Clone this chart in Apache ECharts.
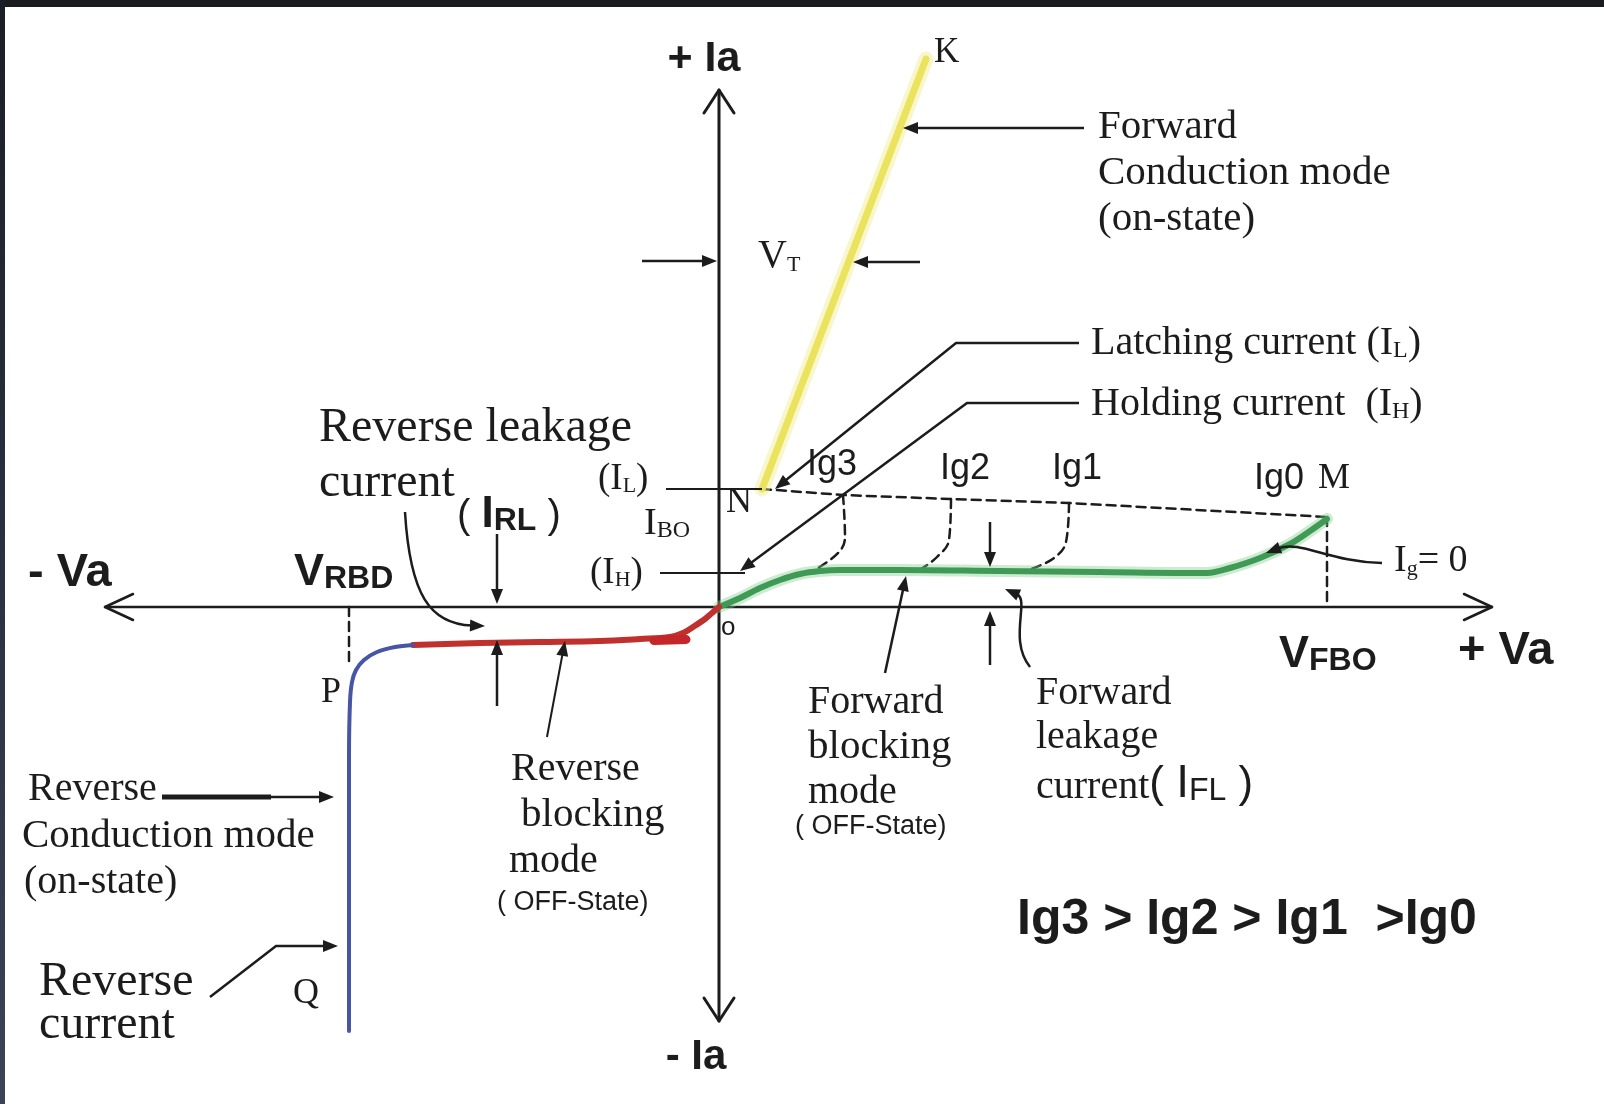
<!DOCTYPE html>
<html>
<head>
<meta charset="utf-8">
<title>SCR V-I characteristic</title>
<script src="https://cdn.jsdelivr.net/npm/echarts@6/dist/echarts.min.js"></script>
<style>
html, body { margin: 0; padding: 0; background: #fff; }
#main { width: 1604px; height: 1104px; }
</style>
</head>
<body>
<div id="main"></div>
<script>
// data in axis units: Va to the right, Ia upwards, origin at the crossing
var forwardOn = [[4.3, 11.8], [20.7, 54.8]];                     // N -> K
var forwardBlock = [[0, 0], [2.1, 0.9], [4.1, 1.9], [6.1, 2.7], [8.1, 3.3], [10.1, 3.6], [12.1, 3.7],
  [18, 3.7], [28, 3.6], [38, 3.5], [48.8, 3.4], [51.1, 3.9], [54.1, 4.9], [57.1, 6.3], [59.1, 7.6], [60.8, 8.8]];
var reverseBlock = [[0, 0], [-0.7, -0.6], [-1.4, -1.2], [-2.6, -2.0], [-3.6, -2.6], [-4.9, -3.0], [-7.9, -3.2],
  [-11.9, -3.4], [-17.9, -3.5], [-23.9, -3.6], [-30.6, -3.8]];
var reverseWedge = [[-3.3, -3.25], [-6.5, -3.35]];
var reverseOn = [[-30.6, -3.8], [-32.4, -4.0], [-34.2, -4.5], [-35.5, -5.3], [-36.3, -6.3], [-36.7, -7.5],
  [-36.9, -9.5], [-37, -15], [-37, -25], [-37, -42.4]];
var triggerLine = [[4.3, 11.8], [12.4, 11.2], [23.2, 10.8], [35, 10.4], [60.8, 9.0]];   // N .. M
var ig3Drop = [[12.4, 11.2], [12.6, 7.0], [12.0, 5.5], [9.9, 3.9]];
var ig2Drop = [[23.2, 10.8], [23.0, 6.7], [21.8, 5.0], [20.2, 3.8]];
var ig1Drop = [[35, 10.4], [34.7, 6.5], [33.5, 4.9], [31.2, 3.8]];
var vrbdMark = [[-37, 0], [-37, -5.8]];
var vfboMark = [[60.8, 9.0], [60.8, 0]];
var vaAxis = [[-61.4, 0], [77.3, 0]];
var iaAxis = [[0, 51.7], [0, -41.4]];
var arrowRight = [[74.5, 1.3], [77.3, 0], [74.5, -1.3]];
var arrowLeft = [[-58.6, 1.3], [-61.4, 0], [-58.6, -1.3]];
var arrowUp = [[-1.5, 49.4], [0, 51.7], [1.5, 49.4]];
var arrowDown = [[-1.5, -39.1], [0, -41.4], [1.5, -39.1]];

var SERIF = '"Liberation Serif", "Times New Roman", serif';
var SANS = '"Liberation Sans", Arial, sans-serif';
var INK = '#1c1c1c';

var chart = echarts.init(document.getElementById('main'));

function ln(data, color, width, extra) {
  var s = {
    type: 'line', data: data, symbol: 'none', silent: true, animation: false,
    lineStyle: { color: color, width: width, cap: 'round', join: 'round' }
  };
  if (extra) {
    for (var k in extra) {
      if (k === 'dash') s.lineStyle.type = extra.dash;
      else s[k] = extra[k];
    }
  }
  return s;
}

function label(x, y, text, font, opt) {
  opt = opt || {};
  return {
    type: 'text', x: x, y: y, z: 50, silent: true,
    style: {
      text: text, font: font, fill: opt.color || INK,
      align: opt.align || 'left', verticalAlign: opt.va || 'middle',
      textAlign: opt.align || 'left', textVerticalAlign: opt.va || 'middle',
      lineHeight: opt.lh, rich: opt.rich
    }
  };
}

function headAt(a, b, hl, hw) {
  var dx = b[0] - a[0], dy = b[1] - a[1], L = Math.sqrt(dx * dx + dy * dy);
  var ux = dx / L, uy = dy / L;
  var bx = b[0] - ux * hl, by = b[1] - uy * hl;
  return {
    base: [bx + ux * 2, by + uy * 2],
    el: {
      type: 'polygon', z: 40, silent: true,
      shape: { points: [[b[0], b[1]], [bx - uy * hw, by + ux * hw], [bx + uy * hw, by - ux * hw]] },
      style: { fill: INK }
    }
  };
}

function arrow(pts, w) {
  var n = pts.length;
  var h = headAt(pts[n - 2], pts[n - 1], 15, 6);
  var line = pts.slice(0, n - 1).concat([h.base]);
  return [
    { type: 'polyline', z: 40, silent: true, shape: { points: line },
      style: { stroke: INK, lineWidth: w || 2.5, fill: null } },
    h.el
  ];
}

function curveArrow(p0, c1, c2, p3) {
  var h = headAt(c2, p3, 15, 6);
  return [
    { type: 'bezierCurve', z: 40, silent: true,
      shape: { x1: p0[0], y1: p0[1], cpx1: c1[0], cpy1: c1[1], cpx2: c2[0], cpy2: c2[1], x2: h.base[0], y2: h.base[1] },
      style: { stroke: INK, lineWidth: 2.5, fill: null } },
    h.el
  ];
}

function seg(pts, w) {
  return { type: 'polyline', z: 40, silent: true, shape: { points: pts },
    style: { stroke: INK, lineWidth: w || 2, fill: null } };
}

var g = [];
// frame of the screenshot
g.push({ type: 'rect', z: 60, silent: true, shape: { x: 0, y: 0, width: 1604, height: 7 }, style: { fill: '#1b1c20' } });
g.push({ type: 'rect', z: 60, silent: true, shape: { x: 0, y: 0, width: 5, height: 1104 },
  style: { fill: new echarts.graphic.LinearGradient(0, 0, 0, 1, [{ offset: 0, color: '#1b1e27' }, { offset: 1, color: '#3a4358' }]) } });

// axis names
g.push(label(704, 59, '+ Ia', 'bold 43px ' + SANS, { align: 'center' }));
g.push(label(696, 1057, '- Ia', 'bold 42px ' + SANS, { align: 'center' }));
g.push(label(28, 573, '- Va', 'bold 47px ' + SANS));
g.push(label(1458, 651, '+ Va', 'bold 47px ' + SANS));
g.push(label(294, 573, '{a|V}{b|RBD}', 'bold 44px ' + SANS, { rich: {
  a: { font: 'bold 45px ' + SANS, verticalAlign: 'bottom' }, b: { font: 'bold 32px ' + SANS, verticalAlign: 'bottom' } } }));
g.push(label(1279, 655, '{a|V}{b|FBO}', 'bold 44px ' + SANS, { rich: {
  a: { font: 'bold 45px ' + SANS, verticalAlign: 'bottom' }, b: { font: 'bold 32px ' + SANS, verticalAlign: 'bottom' } } }));
g.push(label(457, 515, '{p|( }{a|I}{b|RL}{p| )}', '38px ' + SANS, { rich: {
  p: { font: '40px ' + SANS, verticalAlign: 'bottom' }, a: { font: 'bold 44px ' + SANS, verticalAlign: 'bottom' },
  b: { font: 'bold 32px ' + SANS, verticalAlign: 'bottom' } } }));

// point letters
g.push(label(934, 53, 'K', '35px ' + SERIF));
g.push(label(726, 503, 'N', '36px ' + SERIF));
g.push(label(1318, 479, 'M', '36px ' + SERIF));
g.push(label(321, 693, 'P', '36px ' + SERIF));
g.push(label(293, 994, 'Q', '36px ' + SERIF));
g.push(label(721, 628, 'o', '26px ' + SANS));

// gate current labels
g.push(label(807, 465, 'Ig3', '36px ' + SANS));
g.push(label(940, 469, 'Ig2', '36px ' + SANS));
g.push(label(1052, 469, 'Ig1', '36px ' + SANS));
g.push(label(1254, 479, 'Ig0', '36px ' + SANS));
g.push(label(1017, 920, 'Ig3 > Ig2 > Ig1  >Ig0', 'bold 50px ' + SANS));

var sub = function (big, small) {
  return { a: { font: big + 'px ' + SERIF, verticalAlign: 'bottom' }, b: { font: small + 'px ' + SERIF, verticalAlign: 'bottom' } };
};
g.push(label(758, 256, '{a|V}{b|T}', '40px ' + SERIF, { rich: sub(40, 22) }));
g.push(label(598, 479, '{a|(I}{b|L}{a|)}', '36px ' + SERIF, { rich: sub(37, 22) }));
g.push(label(644, 524, '{a|I}{b|BO}', '36px ' + SERIF, { rich: sub(38, 24) }));
g.push(label(590, 573, '{a|(I}{b|H}{a|)}', '36px ' + SERIF, { rich: sub(37, 22) }));
g.push(label(1394, 561, '{a|I}{b|g}{a|= 0}', '36px ' + SERIF, { rich: sub(38, 22) }));

// descriptive text
g.push(label(1098, 104, 'Forward\nConduction mode\n(on-state)', '41px ' + SERIF, { va: 'top', lh: 46 }));
g.push(label(1091, 343, '{a|Latching current (I}{b|L}{a|)}', '40px ' + SERIF, { rich: sub(40, 24) }));
g.push(label(1091, 404, '{a|Holding current  (I}{b|H}{a|)}', '40px ' + SERIF, { rich: sub(40, 24) }));
g.push(label(319, 428, 'Reverse leakage', '48px ' + SERIF));
g.push(label(319, 483, 'current', '48px ' + SERIF));
g.push(label(511, 769, 'Reverse', '40px ' + SERIF));
g.push(label(521, 815, 'blocking', '41px ' + SERIF));
g.push(label(509, 861, 'mode', '40px ' + SERIF));
g.push(label(497, 903, '( OFF-State)', '27px ' + SANS));
g.push(label(808, 702, 'Forward', '40px ' + SERIF));
g.push(label(808, 747, 'blocking', '41px ' + SERIF));
g.push(label(808, 792, 'mode', '40px ' + SERIF));
g.push(label(795, 827, '( OFF-State)', '27px ' + SANS));
g.push(label(1036, 693, 'Forward', '40px ' + SERIF));
g.push(label(1036, 737, 'leakage', '40px ' + SERIF));
g.push(label(1036, 784, '{c|current}{p|( }{a|I}{b|FL}{p| )}', '40px ' + SERIF, { rich: {
  c: { font: '40px ' + SERIF, verticalAlign: 'bottom' }, p: { font: '44px ' + SANS, verticalAlign: 'bottom' },
  a: { font: '46px ' + SANS, verticalAlign: 'bottom' }, b: { font: '32px ' + SANS, verticalAlign: 'bottom' } } }));
g.push(label(28, 789, 'Reverse', '40px ' + SERIF));
g.push(label(22, 836, 'Conduction mode', '41px ' + SERIF));
g.push(label(24, 882, '(on-state)', '40px ' + SERIF));
g.push(label(39, 982, 'Reverse', '48px ' + SERIF));
g.push(label(39, 1025, 'current', '48px ' + SERIF));

// level ticks
g.push(seg([[666, 489], [762, 489]], 2));
g.push(seg([[660, 573], [745, 573]], 2));

// pointers
g = g.concat(arrow([[1084, 128], [903, 128]]));
g = g.concat(arrow([[642, 261], [717, 261]]));
g = g.concat(arrow([[920, 262], [853, 262]]));
g = g.concat(arrow([[1079, 343], [956, 343], [775, 489]]));
g = g.concat(arrow([[1079, 403], [967, 403], [740, 571]]));
g = g.concat(arrow([[497, 534], [497, 604]]));
g = g.concat(arrow([[497, 706], [497, 640]]));
g = g.concat(arrow([[547, 737], [565, 641]], 2));
g = g.concat(arrow([[990, 522], [990, 567]]));
g = g.concat(arrow([[990, 665], [990, 611]]));
g = g.concat(arrow([[885, 673], [906, 576]]));
g.push(seg([[162, 797], [271, 797]], 5));
g = g.concat(arrow([[271, 797], [334, 797]]));
g = g.concat(arrow([[210, 997], [276, 946], [338, 946]]));
g = g.concat(curveArrow([405, 512], [410, 595], [430, 624], [485, 626]));
g = g.concat(curveArrow([1030, 667], [1008, 640], [1030, 600], [1005, 589]));
g = g.concat(curveArrow([1382, 563], [1330, 562], [1300, 540], [1266, 553]));

var dash = [9, 6];
var option = {
  backgroundColor: '#ffffff',
  animation: false,
  grid: { left: 19, top: 7, width: 1580, height: 1090, containLabel: false },
  xAxis: { type: 'value', min: -70, max: 88, show: false },
  yAxis: { type: 'value', min: -49, max: 60, show: false },
  series: [
    ln(vaAxis, INK, 2.5),
    ln(iaAxis, INK, 3),
    ln(arrowRight, INK, 2.5),
    ln(arrowLeft, INK, 2.5),
    ln(arrowUp, INK, 3),
    ln(arrowDown, INK, 3),
    ln(triggerLine, INK, 2.5, { dash: dash }),
    ln(ig3Drop, INK, 2.5, { dash: dash, smooth: 0.4 }),
    ln(ig2Drop, INK, 2.5, { dash: dash, smooth: 0.4 }),
    ln(ig1Drop, INK, 2.5, { dash: dash, smooth: 0.4 }),
    ln(vrbdMark, INK, 2.5, { dash: dash }),
    ln(vfboMark, INK, 2.5, { dash: dash }),
    ln(forwardOn, 'rgba(240,236,140,0.45)', 15),
    ln(forwardOn, '#ebe35e', 7),
    ln(forwardBlock, 'rgba(130,205,140,0.4)', 12, { smooth: 0.35 }),
    ln(forwardBlock, '#3f9a55', 6, { smooth: 0.35 }),
    ln(reverseBlock, '#c0302c', 6, { smooth: 0.35 }),
    ln(reverseWedge, '#c4262a', 9),
    ln(reverseOn, '#4655a4', 4, { smooth: 0.35 })
  ],
  graphic: { elements: g }
};
chart.setOption(option);
</script>
</body>
</html>
